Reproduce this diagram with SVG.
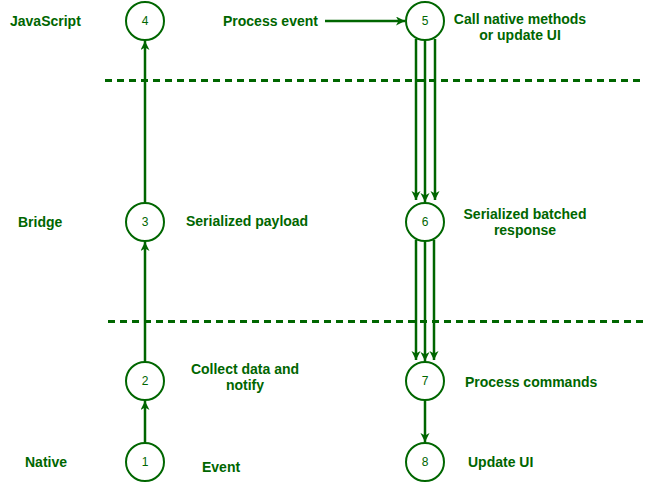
<svg xmlns="http://www.w3.org/2000/svg" width="652" height="482" viewBox="0 0 652 482">
<style>
.n circle{fill:#fff;stroke:#006600;stroke-width:2}
.n text{font-family:"Liberation Sans",Arial,sans-serif;font-size:12px;fill:#006600;text-anchor:middle;dominant-baseline:central}
.lbl{font-family:"Liberation Sans",Arial,sans-serif;font-size:14px;font-weight:bold;fill:#006600;dominant-baseline:central}
.c{stroke:#006600;stroke-width:2.5;fill:none;marker-end:url(#ah)}
.sep{stroke:#006600;stroke-width:3;stroke-dasharray:7 5;fill:none}
</style>
<defs>
<marker id="ah" markerUnits="userSpaceOnUse" markerWidth="10" markerHeight="10" refX="9" refY="4.5" orient="auto">
<path d="M0,0 L9,4.5 L0,9 L2.5,4.5 z" fill="#006600"/>
</marker>
</defs>
<rect width="652" height="482" fill="#fff"/>
<g id="separators">
<line class="sep" x1="105" y1="80.5" x2="640" y2="80.5"/>
<line class="sep" x1="108" y1="321.5" x2="643" y2="321.5"/>
</g>
<g id="labels">
<text class="lbl" x="10" y="21">JavaScript</text>
<text class="lbl" x="18" y="222">Bridge</text>
<text class="lbl" x="25" y="462">Native</text>
<text class="lbl" x="223" y="21">Process event</text>
<text class="lbl" x="520" y="19" text-anchor="middle">Call native methods</text>
<text class="lbl" x="520" y="35" text-anchor="middle">or update UI</text>
<text class="lbl" x="186" y="221">Serialized payload</text>
<text class="lbl" x="525" y="214" text-anchor="middle">Serialized batched</text>
<text class="lbl" x="525" y="230" text-anchor="middle">response</text>
<text class="lbl" x="245" y="369" text-anchor="middle">Collect data and</text>
<text class="lbl" x="245" y="385" text-anchor="middle">notify</text>
<text class="lbl" x="465" y="382">Process commands</text>
<text class="lbl" x="202" y="467">Event</text>
<text class="lbl" x="468" y="462">Update UI</text>
</g>
<g id="connectors">
<line class="c" x1="145" y1="442" x2="145" y2="401"/>
<line class="c" x1="145" y1="361" x2="145" y2="242"/>
<line class="c" x1="145" y1="202" x2="145" y2="41"/>
<line class="c" x1="325" y1="21" x2="405" y2="21"/>
<line class="c" x1="416" y1="39" x2="416" y2="200"/>
<line class="c" x1="425" y1="41" x2="425" y2="202"/>
<line class="c" x1="435" y1="39" x2="435" y2="200"/>
<line class="c" x1="416" y1="240" x2="416" y2="360"/>
<line class="c" x1="425" y1="242" x2="425" y2="361"/>
<line class="c" x1="434" y1="240" x2="434" y2="360"/>
<line class="c" x1="425" y1="401" x2="425" y2="442"/>
</g>
<g id="node1" class="n"><circle cx="145" cy="462" r="19"/><text x="145" y="462">1</text></g>
<g id="node2" class="n"><circle cx="145" cy="381" r="19"/><text x="145" y="381">2</text></g>
<g id="node3" class="n"><circle cx="145" cy="222" r="19"/><text x="145" y="222">3</text></g>
<g id="node4" class="n"><circle cx="145" cy="21" r="19"/><text x="145" y="21">4</text></g>
<g id="node5" class="n"><circle cx="425" cy="21" r="19"/><text x="425" y="21">5</text></g>
<g id="node6" class="n"><circle cx="425" cy="222" r="19"/><text x="425" y="222">6</text></g>
<g id="node7" class="n"><circle cx="425" cy="381" r="19"/><text x="425" y="381">7</text></g>
<g id="node8" class="n"><circle cx="425" cy="462" r="19"/><text x="425" y="462">8</text></g>
</svg>
